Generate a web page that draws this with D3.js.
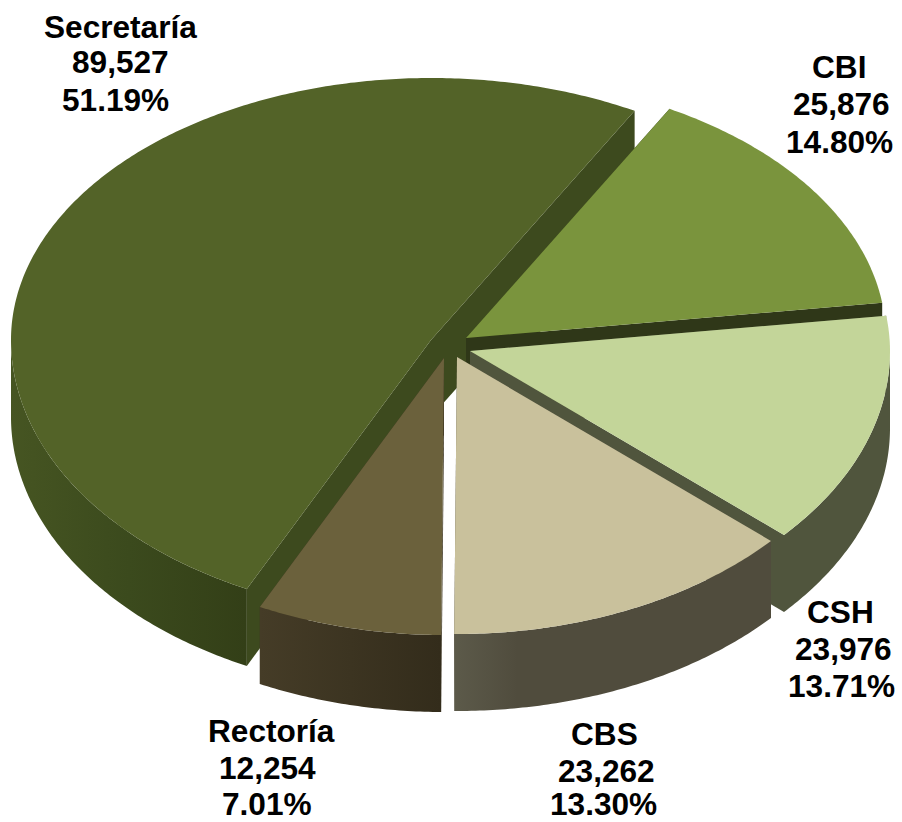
<!DOCTYPE html>
<html><head><meta charset="utf-8">
<script src="https://cdn.jsdelivr.net/npm/d3@7"></script>
<style>html,body{margin:0;padding:0;background:#fff}svg{display:block}
text{font-family:"Liberation Sans",Arial,sans-serif;font-weight:700;font-size:31.6px;fill:#000}</style>
</head><body><svg id="c" width="902" height="822"></svg>
<script>
const categories = ["CBI","CSH","CBS","Rectoría","Secretaría"];
const values = [25876,23976,23262,12254,89527];
const topColors = ["#7a943d","#c3d599","#c9c19c","#6b613c","#536328"];
const faceColors = ["#2f3718","#50553d","#514c3e","#3b3320","#3d4a1e"];
const wallLeft = ["#2f3718","#50553d","#5c5a4a","#453c27","#465522"];
const wallMid = ["#2f3718","#50553d","#504c3d","#3c3421","#3b4a1d"];
const wallRight = ["#2f3718","#50553d","#504c3d","#332c1b","#333f17"];
const midStop = [0.5,0.5,0.2,0.5,0.5];
const explodeX = [16,20,7,-6,-19];
const explodeY = [-10,3,9,10,-8];
const labelLines = [
 [[812,78],[793,115],[786,153]],
 [[807,623],[795,660],[788,697]],
 [[571,745],[558,782],[550,815]],
 [[208,742],[219,779],[222,815]],
 [[44,38],[72,73],[62,111]]
];
const drawOrder = [4,0,1,3,2];
const cx=450, cy=348, rx=420, ryBack=262, ryFront=277, depth=77;

const svg=d3.select("#c");
const defs=svg.append("defs");
const start=29*Math.PI/180;
const arcs=d3.pie().sort(null).startAngle(start).endAngle(start+2*Math.PI)(values);
const total=d3.sum(values);
const line=d3.line();
// slight perspective warp of the front-left part of the disc
const lo=130*Math.PI/180, hi=290*Math.PI/180, amp=1.3*Math.PI/180;
function warp(a){ if(a<=lo||a>=hi) return a; const s=Math.sin((a-lo)/(hi-lo)*Math.PI); return a+amp*s*s; }
function P(a0,r,i){const a=warp(a0), c=Math.cos(a);
  return [cx+explodeX[i]+r*rx*Math.sin(a), cy+explodeY[i]-r*c*(c>0?ryBack:ryFront)];}
function arcPts(a0,a1,i){const n=Math.max(2,Math.ceil((a1-a0)/0.01));
  return d3.range(n+1).map(k=>P(a0+(a1-a0)*k/n,1,i));}
const down=p=>[p[0],p[1]+depth];

drawOrder.forEach(i=>{
  const d=arcs[i], a0=d.startAngle, a1=d.endAngle, g=svg.append("g");
  const apex=P(0,0,i), e0=P(a0,1,i), e1=P(a1,1,i);
  [e0,e1].forEach(e=>g.append("path")
    .attr("d",line([apex,e,down(e),down(apex)])+"Z").attr("fill",faceColors[i]));
  const f0=Math.max(a0,Math.PI/2), f1=Math.min(a1,3*Math.PI/2);
  if(f1>f0){
    const pts=arcPts(f0,f1,i);
    const id="w"+i;
    const lg=defs.append("linearGradient").attr("id",id).attr("gradientUnits","userSpaceOnUse")
      .attr("x1",d3.min(pts,p=>p[0])).attr("x2",d3.max(pts,p=>p[0])).attr("y1",0).attr("y2",0);
    lg.append("stop").attr("offset",0).attr("stop-color",wallLeft[i]);
    lg.append("stop").attr("offset",midStop[i]).attr("stop-color",wallMid[i]);
    lg.append("stop").attr("offset",1).attr("stop-color",wallRight[i]);
    g.append("path").attr("d",line(pts.concat(pts.map(down).reverse()))+"Z").attr("fill",`url(#${id})`);
  }
  g.append("path").attr("d",line([apex].concat(arcPts(a0,a1,i)))+"Z").attr("fill",topColors[i]);
});

categories.forEach((c,i)=>{
  const strs=[c,d3.format(",")(values[i]),d3.format(".2%")(values[i]/total)];
  strs.forEach((s,k)=>svg.append("text").attr("x",labelLines[i][k][0]).attr("y",labelLines[i][k][1]).text(s));
});
</script></body></html>
